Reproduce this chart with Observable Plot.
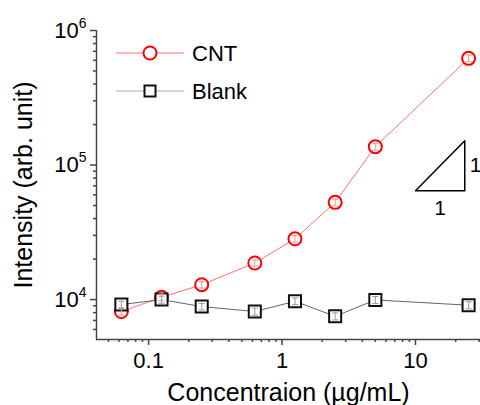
<!DOCTYPE html>
<html>
<head>
<meta charset="utf-8">
<script src="https://cdn.jsdelivr.net/npm/d3@7"></script>
<script src="https://cdn.jsdelivr.net/npm/@observablehq/plot@0.6"></script>
<style>
  html, body { margin: 0; padding: 0; background: white; }
  #chart { width: 480px; height: 405px; overflow: hidden; }
</style>
</head>
<body>
<div id="chart"></div>
<script>
// ---- data ----
const conc = [0.0625, 0.125, 0.25, 0.625, 1.25, 2.5, 5, 25];
const cnt = [8150, 10400, 12900, 18700, 28300, 52800, 137000, 621000];
const cntErr = [500, 600, 700, 1000, 1600, 3000, 8000, 35000];
const blank = [9180, 10000, 8870, 8150, 9710, 7510, 9940, 9080];
const blankErr = [550, 600, 500, 500, 550, 450, 600, 550];
const seriesNames = ["CNT", "Blank"];
const xTicks = [0.1, 1, 10];
const yTicks = [1e4, 1e5, 1e6];
const xDomain = [0.0407, 30.7];
const yDomain = [5050, 1e6];
// slope-1 triangle annotation (data units)
const triX = [10, 23.4, 23.4, 10];
const triY = [64400, 64400, 151600, 64400];
const triLabels = ["1", "1"];

const rows = [];
conc.forEach((c, i) => {
  rows.push({series: "CNT", x: c, y: cnt[i], e: cntErr[i]});
  rows.push({series: "Blank", x: c, y: blank[i], e: blankErr[i]});
});
const cntRows = rows.filter(d => d.series === "CNT");
const blankRows = rows.filter(d => d.series === "Blank");
const tri = triX.map((x, i) => ({x, y: triY[i]}));

function minorTicks(domain) {
  const out = [];
  const lo = Math.floor(Math.log10(domain[0])), hi = Math.ceil(Math.log10(domain[1]));
  for (let p = lo; p <= hi; p++) {
    for (let k = 2; k <= 9; k++) {
      const v = k * Math.pow(10, p);
      if (v >= domain[0] && v <= domain[1]) out.push(v);
    }
  }
  return out;
}

const capSymbol = {
  draw(ctx, size) {
    const r = Math.sqrt(size) / 2;
    ctx.moveTo(-r, 0); ctx.lineTo(r, 0);
  }
};

const axisColor = "#444";
const font = "'Liberation Sans', Arial, sans-serif";

const plot = Plot.plot({
  width: 480,
  height: 405,
  marginLeft: 96,
  marginRight: 0,
  marginTop: 30,
  marginBottom: 66,
  style: {fontFamily: font, background: "white", color: "black"},
  x: {type: "log", domain: xDomain},
  y: {type: "log", domain: yDomain},
  marks: [
    // axes
    Plot.axisX({ticks: minorTicks(xDomain), tickSize: 3, tickFormat: () => "", stroke: axisColor, strokeWidth: 1.5, label: null}),
    Plot.axisX({ticks: xTicks, tickSize: 6, tickPadding: 7, tickFormat: d => String(d), stroke: axisColor, strokeWidth: 1.5, fontSize: 22, label: null}),
    Plot.axisY({ticks: minorTicks(yDomain), tickSize: 3, tickFormat: () => "", stroke: axisColor, strokeWidth: 1.5, label: null}),
    Plot.axisY({ticks: yTicks, tickSize: 6, tickPadding: 4, tickFormat: d => "10^" + Math.round(Math.log10(d)), stroke: axisColor, strokeWidth: 1.5, fontSize: 22, label: null}),
    Plot.ruleX([xDomain[0]], {stroke: axisColor, strokeWidth: 1.5}),
    Plot.ruleY([yDomain[0]], {stroke: axisColor, strokeWidth: 1.5}),
    // series lines
    Plot.line(cntRows, {x: "x", y: "y", stroke: "#ff7070", strokeWidth: 1}),
    Plot.line(blankRows, {x: "x", y: "y", stroke: "#666", strokeWidth: 1}),
    // markers
    Plot.dot(cntRows, {x: "x", y: "y", r: 6.5, stroke: "#ff0000", strokeWidth: 2, fill: "white"}),
    Plot.dot(blankRows, {x: "x", y: "y", symbol: "square", r: 6.8, stroke: "#111", strokeWidth: 2, fill: "white"}),
    // error bars inside markers
    Plot.ruleX(cntRows, {x: "x", y1: d => d.y - d.e, y2: d => d.y + d.e, stroke: "#ff9090", strokeWidth: 1}),
    Plot.dot(cntRows, {x: "x", y: d => d.y - d.e, symbol: capSymbol, r: 3.5, stroke: "#ff9090", strokeWidth: 1}),
    Plot.dot(cntRows, {x: "x", y: d => d.y + d.e, symbol: capSymbol, r: 3.5, stroke: "#ff9090", strokeWidth: 1}),
    Plot.ruleX(blankRows, {x: "x", y1: d => d.y - d.e, y2: d => d.y + d.e, stroke: "#999", strokeWidth: 1}),
    Plot.dot(blankRows, {x: "x", y: d => d.y - d.e, symbol: capSymbol, r: 3.5, stroke: "#999", strokeWidth: 1}),
    Plot.dot(blankRows, {x: "x", y: d => d.y + d.e, symbol: capSymbol, r: 3.5, stroke: "#999", strokeWidth: 1}),
    // slope triangle
    Plot.line(tri, {x: "x", y: "y", stroke: "black", strokeWidth: 1.5}),
    Plot.text([triLabels[0]], {x: triX[1], y: Math.sqrt(triY[1] * triY[2]), dx: 5, textAnchor: "start", fontSize: 21, fill: "black"}),
    Plot.text([triLabels[1]], {x: Math.sqrt(triX[0] * triX[1]), y: triY[0], dy: 18, fontSize: 21, fill: "black"}),
    // axis titles
    Plot.text(["Concentraion (µg/mL)"], {frameAnchor: "bottom", dy: 61, fontSize: 25, fill: "black"}),
    Plot.text(["Intensity (arb. unit)"], {frameAnchor: "left", dx: -73, rotate: -90, textAnchor: "middle", fontSize: 25, fill: "black"})
  ]
});

// superscript exponents on y tick labels
plot.querySelectorAll('g[aria-label="y-axis tick label"] text').forEach(t => {
  const s = t.textContent;
  if (s.includes("^")) {
    const [base, exp] = s.split("^");
    t.textContent = base;
    const ts = document.createElementNS("http://www.w3.org/2000/svg", "tspan");
    ts.setAttribute("dy", "-10");
    ts.setAttribute("font-size", "14");
    ts.textContent = exp;
    t.appendChild(ts);
  }
});

// legend
const svg = d3.select(plot);
const lg = svg.append("g").attr("font-family", font).attr("font-size", 22).attr("text-anchor", "start");
const legendItems = [
  {name: seriesNames[0], y: 53, line: "#ff7070", marker: "circle"},
  {name: seriesNames[1], y: 91, line: "#aaa", marker: "square"}
];
legendItems.forEach(it => {
  lg.append("line").attr("x1", 116).attr("x2", 184).attr("y1", it.y).attr("y2", it.y)
    .attr("stroke", it.line).attr("stroke-width", 1);
  if (it.marker === "circle") {
    lg.append("circle").attr("cx", 150).attr("cy", it.y).attr("r", 6.5)
      .attr("fill", "white").attr("stroke", "#ff0000").attr("stroke-width", 2);
  } else {
    lg.append("rect").attr("x", 144.5).attr("y", it.y - 5.5).attr("width", 11).attr("height", 11)
      .attr("fill", "white").attr("stroke", "#111").attr("stroke-width", 2);
  }
  lg.append("text").attr("x", 192).attr("y", it.y).attr("dy", "0.38em").attr("fill", "black")
    .attr("text-anchor", "start").text(it.name);
});

document.getElementById("chart").appendChild(plot);
</script>
</body>
</html>
